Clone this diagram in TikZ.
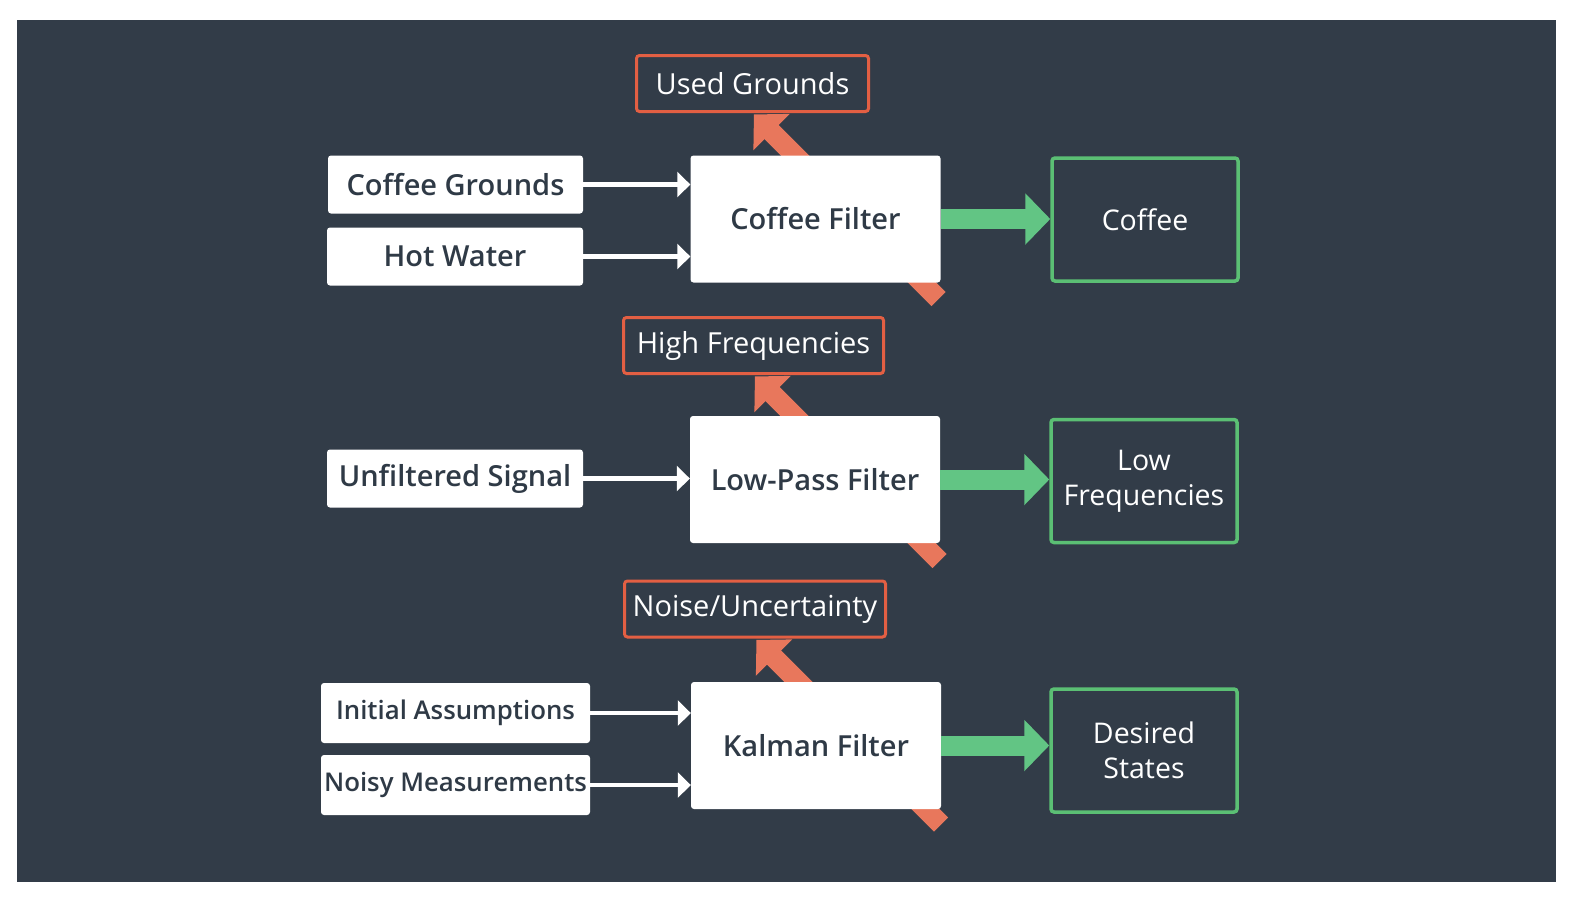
\documentclass[tikz,border=0pt]{standalone}
\usepackage{fontspec}
\setmainfont{Open Sans}
\IfFontExistsTF{Open Sans Semibold}{\newfontfamily\semib{Open Sans Semibold}}{%
  \IfFontExistsTF{Open Sans SemiBold}{\newfontfamily\semib{Open Sans SemiBold}}{%
    \newfontfamily\semib[FakeBold=2.2]{Open Sans}}}
\usetikzlibrary{arrows.meta}
\definecolor{bg}{HTML}{323C48}
\definecolor{ink}{HTML}{2F3A46}
\definecolor{ora}{HTML}{E8775C}
\definecolor{oraline}{HTML}{E35F43}
\definecolor{grn}{HTML}{62C584}
\definecolor{grnline}{HTML}{5BBF74}

\begin{document}
\begin{tikzpicture}
[x=1pt,y=-1pt, % pixel units
inbox/.style={fill=white,rounded corners=3pt,text=ink,inner sep=0pt,
  font=\semib\fontsize{29}{32}\selectfont,minimum height=58pt}, % input boxes
filt/.style={inbox,minimum width=250pt,minimum height=127pt}, % filter boxes
waste/.style={draw=oraline,line width=3pt,fill=bg,rounded corners=3pt,text=white,inner sep=0pt,
  font=\fontsize{29}{32}\selectfont,minimum height=56pt}, % removed part
outbox/.style={draw=grnline,line width=3.5pt,rounded corners=3pt,text=white,align=center,
  font=\fontsize{28.5}{35}\selectfont,minimum width=186pt,minimum height=123pt}, % output
feed/.style={draw=white,line width=4.5pt,-{Triangle[width=25pt,length=13pt]}},
pass/.style={draw=grn,line width=20pt,-{Triangle[width=50pt,length=25pt]}},
drop/.style={draw=ora,line width=20pt,shorten >=2pt,-{Triangle[width=50pt,length=25pt]}}
]
\useasboundingbox (0,0) rectangle (1570,900);
\fill[bg] (17,20) rectangle (1556,882); % background

% coffee
\node[waste,minimum width=232pt] (ug) at (752.5,83.5) {Used Grounds};
\path (ug.south) ++(186,186) coordinate (ugt);
\draw[drop] (ugt) -- (ug.south);
\node[filt] (cf) at (815.5,219) {Coffee Filter};
\node[inbox,minimum width=255pt] (cg) at (455.5,184.5) {Coffee Grounds};
\node[inbox,minimum width=256pt] (hw) at (455,256.5) {Hot Water};
\node[outbox] (co) at (1145,219.5) {Coffee};
\draw[feed] (cg.east) -- (cg.east -| cf.west);
\draw[feed] (hw.east) -- (hw.east -| cf.west);
\draw[pass] (cf.east) -- (cf.east -| co.west);

% low-pass
\node[waste,minimum width=260pt] (hf) at (753.5,345.5) {High Frequencies};
\path (hf.south) ++(186,186) coordinate (hft);
\draw[drop] (hft) -- (hf.south);
\node[filt] (lp) at (815,479.5) {Low-Pass Filter};
\node[inbox,minimum width=256pt] (us) at (455,478.5) {Unfiltered Signal};
\node[outbox] (lf) at (1144,481) {Low\\Frequencies};
\draw[feed] (us.east) -- (us.east -| lp.west);
\draw[pass] (lp.east) -- (lp.east -| lf.west);

% kalman
\node[waste,minimum width=261pt] (nu) at (755,609) {Noise/Uncertainty};
\path (nu.south) ++(186,186) coordinate (nut);
\draw[drop] (nut) -- (nu.south);
\node[filt] (kf) at (816,745.5) {Kalman Filter};
\node[inbox,minimum width=269pt,minimum height=60pt,font=\semib\fontsize{25.8}{30}\selectfont] (ia) at (455.5,713) {Initial Assumptions};
\node[inbox,minimum width=269pt,minimum height=60pt,font=\semib\fontsize{25.8}{30}\selectfont] (nm) at (455.5,785) {Noisy Measurements};
\node[outbox] (ds) at (1144,750.5) {Desired\\States};
\draw[feed] (ia.east) -- (ia.east -| kf.west);
\draw[feed] (nm.east) -- (nm.east -| kf.west);
\draw[pass] (kf.east) -- (kf.east -| ds.west);
\end{tikzpicture}
\end{document}
